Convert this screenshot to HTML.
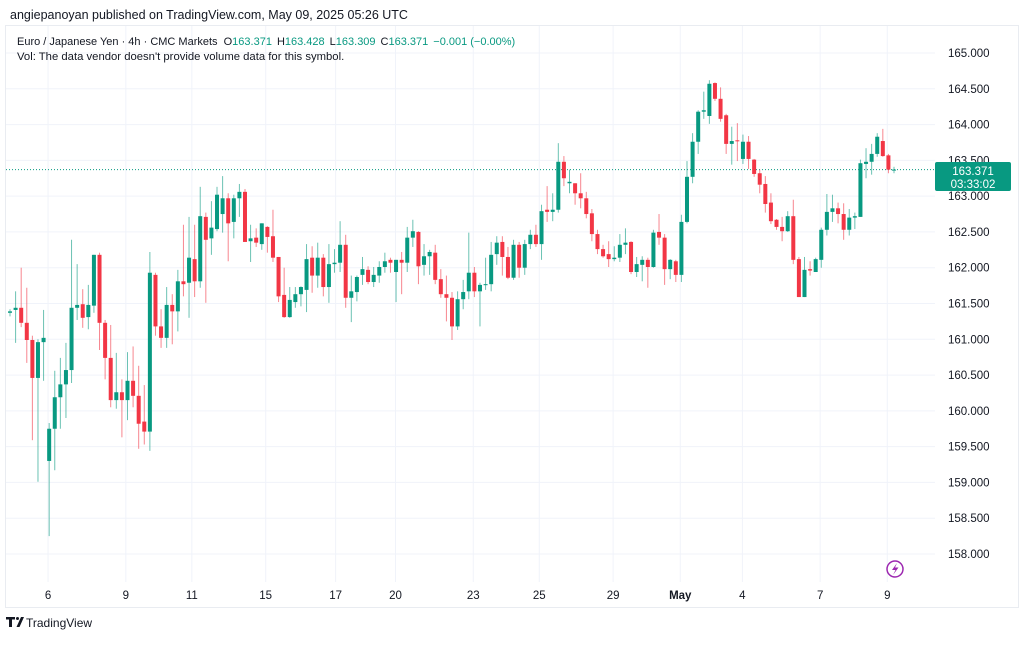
<!DOCTYPE html>
<html><head><meta charset="utf-8"><style>
html,body{margin:0;padding:0;background:#fff;}
body{width:1024px;height:641px;overflow:hidden;font-family:"Liberation Sans",sans-serif;}
</style></head><body>
<svg id="chart" width="1024" height="641" xmlns="http://www.w3.org/2000/svg" font-family="Liberation Sans, sans-serif">
  <rect x="0" y="0" width="1024" height="641" fill="#fff"/>
  <text x="10" y="19" font-size="12.5" fill="#131722">angiepanoyan published on TradingView.com, May 09, 2025 05:26 UTC</text>
  <rect x="5.5" y="25.5" width="1013" height="582" fill="none" stroke="#e9ecf1"/>
  <g id="grid"></g>
  <g id="candles"></g>
  <g id="yaxis"></g>
  <g id="xaxis"></g>
  <text x="17" y="45" font-size="11" fill="#131722">Euro / Japanese Yen · 4h · CMC Markets <tspan dx="3">O</tspan><tspan fill="#089981">163.371</tspan><tspan dx="5">H</tspan><tspan fill="#089981">163.428</tspan><tspan dx="5">L</tspan><tspan fill="#089981">163.309</tspan><tspan dx="5">C</tspan><tspan fill="#089981">163.371</tspan><tspan dx="5" fill="#089981">−0.001 (−0.00%)</tspan></text>
  <text x="17" y="60" font-size="11.3" fill="#131722">Vol: The data vendor doesn't provide volume data for this symbol.</text>
  <g>
    <rect x="935" y="162" width="76" height="29" rx="2" fill="#089981"/>
    <text x="973" y="175" font-size="11.5" fill="#fff" text-anchor="middle">163.371</text>
    <text x="973" y="188" font-size="11.5" fill="#fff" text-anchor="middle">03:33:02</text>
  </g>
  <g>
    <circle cx="895" cy="569" r="8" fill="#fff" stroke="#9c27b0" stroke-width="1.5"/>
    <path d="M897 563 L892 570 L895.5 570 L893 575 L898.5 567.5 L895 567.5 Z" fill="#9c27b0"/>
  </g>
  <g>
    <path d="M6 617 h9 v2.5 h-3 v7.5 h-3 v-7.5 h-3 Z M16.5 627 l4.5 -10 h3 l-4.5 10 Z" fill="#131722"/>
    <circle cx="17.5" cy="618.5" r="1.5" fill="#131722"/>
    <text x="26" y="627" font-size="12" fill="#131722">TradingView</text>
  </g>
</svg>
<script>
const opens=[161.37,161.41,161.44,161.23,160.99,160.46,160.96,159.30,159.75,160.19,160.37,160.57,161.44,161.49,161.31,161.47,162.18,161.23,160.74,160.15,160.26,160.15,160.42,160.21,159.85,159.71,161.90,161.18,161.02,161.48,161.39,161.81,161.79,162.12,161.81,162.71,162.41,162.54,162.75,162.97,162.64,162.97,163.06,162.37,162.42,162.33,162.57,162.44,162.15,161.62,161.31,161.52,161.63,161.69,162.14,161.89,162.14,161.73,162.05,162.07,162.32,161.58,161.66,161.90,161.97,161.80,161.89,162.01,162.11,161.94,162.11,162.07,162.42,162.50,162.04,162.16,162.21,161.84,161.63,161.58,161.18,161.56,161.67,161.93,161.67,161.76,161.77,162.19,162.36,162.15,161.86,162.32,162.00,162.33,162.46,162.33,162.81,162.78,162.81,163.48,163.18,163.18,163.04,162.97,162.76,162.47,162.26,162.19,162.12,162.14,162.32,162.36,161.94,162.04,162.11,162.01,162.50,162.42,161.98,162.09,161.90,162.64,163.27,163.76,164.18,164.12,164.58,164.36,164.13,163.73,163.78,163.52,163.76,163.51,163.32,163.17,162.91,162.67,162.57,162.51,162.72,162.12,161.59,161.98,161.94,162.11,162.53,162.78,162.83,162.75,162.53,162.70,162.71,163.45,163.48,163.59,163.77,163.57,163.37];
const highs=[161.42,161.67,162.00,161.72,161.05,161.00,161.41,159.83,160.56,160.74,160.95,162.39,162.05,161.70,161.76,162.18,162.21,161.27,161.20,160.81,160.44,160.82,160.90,160.63,160.36,162.22,161.93,161.42,161.73,161.63,161.97,162.60,162.71,162.60,163.13,162.77,162.93,163.13,163.28,163.04,163.02,163.17,163.10,162.60,162.55,162.62,162.58,162.81,162.15,162.00,161.73,161.73,161.74,162.33,162.30,162.35,162.19,162.33,162.26,162.65,162.46,161.89,161.89,162.15,162.02,162.01,162.09,162.21,162.14,162.11,162.22,162.57,162.67,162.51,162.33,162.25,162.32,161.98,161.89,161.66,161.67,161.83,162.49,162.01,161.79,162.14,162.36,162.44,162.44,162.29,162.39,162.36,162.39,162.53,162.60,162.88,163.14,163.04,163.74,163.56,163.37,163.18,163.32,163.06,162.82,162.53,162.32,162.37,162.30,162.47,162.55,162.37,162.15,162.16,162.14,162.53,162.75,162.47,162.12,162.11,162.74,163.49,163.88,164.20,164.46,164.62,164.59,164.52,164.15,163.97,164.02,163.86,163.84,163.52,163.37,163.28,163.04,162.68,162.71,162.79,162.95,162.15,162.15,162.09,162.14,162.56,163.03,163.02,162.91,162.90,162.82,162.77,163.51,163.67,163.73,163.88,163.94,163.59,163.41];
const lows=[161.32,160.95,161.17,160.67,159.59,159.01,160.42,158.25,159.17,159.75,159.90,160.39,161.27,161.16,161.14,161.37,160.85,160.44,160.05,160.03,159.63,159.87,160.05,159.47,159.53,159.44,161.05,160.88,160.88,160.93,161.11,161.60,161.30,161.59,161.72,161.51,162.18,162.51,162.49,162.09,162.41,162.71,162.36,162.08,162.29,162.25,162.21,162.08,161.52,161.30,161.30,161.44,161.46,161.38,161.65,161.72,161.60,161.51,161.93,161.94,161.44,161.24,161.53,161.76,161.77,161.73,161.79,161.93,161.93,161.52,161.63,161.94,162.29,161.77,161.89,161.90,161.77,161.58,161.25,160.99,161.13,161.42,161.56,161.59,161.18,161.69,161.67,162.04,161.89,161.84,161.83,161.86,161.90,162.26,162.29,162.11,162.64,162.65,162.77,163.14,163.04,162.88,162.83,162.69,162.37,162.19,162.14,162.01,162.09,162.08,162.19,161.91,161.87,161.81,161.72,162.00,162.32,161.76,161.84,161.80,161.80,162.62,163.18,163.59,164.08,164.01,164.33,164.04,163.59,163.44,163.49,163.45,163.38,163.27,163.04,162.77,162.61,162.53,162.37,162.50,162.05,161.59,161.59,161.89,161.94,162.00,162.45,162.64,162.62,162.39,162.45,162.54,162.71,163.25,163.30,163.55,163.55,163.32,163.32];
const closes=[161.39,161.44,161.23,160.99,160.46,160.96,161.02,159.75,160.19,160.37,160.57,161.44,161.48,161.30,161.48,162.18,161.23,160.74,160.15,160.26,160.15,160.42,160.21,159.82,159.71,161.93,161.18,161.02,161.48,161.39,161.81,161.77,162.14,161.81,162.72,162.39,162.56,163.02,162.97,162.62,162.97,163.06,162.36,162.41,162.35,162.62,162.43,162.14,161.60,161.31,161.55,161.63,161.73,162.12,161.89,162.14,161.73,162.05,162.07,162.32,161.58,161.67,161.87,161.98,161.80,161.90,162.01,162.09,162.07,162.11,162.07,162.42,162.51,162.02,162.16,162.22,161.83,161.63,161.58,161.18,161.56,161.66,161.93,161.67,161.76,161.77,162.18,162.35,162.15,161.86,162.32,162.00,162.33,162.46,162.33,162.79,162.78,162.81,163.48,163.25,163.20,163.04,162.97,162.75,162.47,162.26,162.16,162.12,162.14,162.32,162.35,161.94,162.05,162.11,162.01,162.49,162.42,161.98,162.11,161.90,162.64,163.27,163.76,164.18,164.20,164.57,164.36,164.08,163.73,163.77,163.77,163.76,163.52,163.31,163.16,162.89,162.65,162.57,162.51,162.72,162.11,161.59,161.97,161.96,162.12,162.53,162.78,162.83,162.75,162.53,162.70,162.72,163.46,163.48,163.59,163.83,163.56,163.37,163.371];
const priceTicks=[165,164.5,164,163.5,163,162.5,162,161.5,161,160.5,160,159.5,159,158.5,158];
const dateLabels=["6","9","11","15","17","20","23","25","29","May","4","7","9"];
const dateIndex=[6.8,20.7,32.5,45.7,58.2,68.9,82.8,94.6,107.8,119.8,130.9,144.8,156.8];
const lastPrice=163.371;

const NS="http://www.w3.org/2000/svg";
function yS(p){return 53+(165-p)*71.57;}
function xS(i){return 10+i*5.595;}
function mk(tag,attrs,parent){const e=document.createElementNS(NS,tag);for(const k in attrs)e.setAttribute(k,attrs[k]);parent.appendChild(e);return e;}
const grid=document.getElementById('grid'),cg=document.getElementById('candles'),ya=document.getElementById('yaxis'),xa=document.getElementById('xaxis');
priceTicks.forEach(p=>{
  const l=mk('line',{x1:6,x2:935,y1:yS(p),y2:yS(p),stroke:'#f0f3fa','stroke-width':1},grid);
  
  
  const t=mk('text',{x:948,y:yS(p)+4,'font-size':11.5,fill:'#131722'},ya);
  t.textContent=p.toFixed(3);
  
  
});
dateLabels.forEach((d,k)=>{
  const x=xS(dateIndex[k]);
  const l=mk('line',{x1:x,x2:x,y1:26,y2:582,stroke:'#f0f3fa','stroke-width':1},grid);
  
  
  const t=mk('text',{x:x,y:599,'font-size':11.5,fill:'#131722','text-anchor':'middle','font-weight':d==='May'?'bold':'normal'},xa);
  t.textContent=d;
  
  
});
const pl=mk('line',{x1:6,x2:935,y1:yS(lastPrice),y2:yS(lastPrice),stroke:'#089981','stroke-width':1,'stroke-dasharray':'1 2'},grid);


opens.forEach((o,i)=>{
  const c=closes[i],up=c>=o,col=up?'#089981':'#f23645',x=xS(i);
  const g=mk('g',{},cg);
  
  
  mk('line',{x1:x,x2:x,y1:yS(highs[i]),y2:yS(lows[i]),stroke:col,'stroke-width':1,'stroke-opacity':0.6},g);
  const top=yS(Math.max(o,c)),bot=yS(Math.min(o,c));
  mk('rect',{x:x-2,y:top,width:4,height:Math.max(1,bot-top),fill:col},g);
});
</script>
</body></html>
